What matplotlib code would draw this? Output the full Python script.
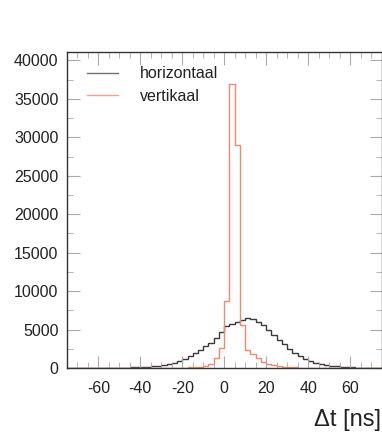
import numpy as np
import matplotlib
matplotlib.use("Agg")
import matplotlib.pyplot as plt
from matplotlib.ticker import MultipleLocator

plt.rcParams['font.family'] = ['Liberation Sans', 'DejaVu Sans']
plt.rcParams['axes.unicode_minus'] = False

# bin edges: -75 .. 75 ns in 2.5 ns steps
bin_lo = -75.0
bin_hi = 75.0
bin_w = 2.5

horizontaal = [0, 0, 2, 3, 5, 8, 10, 15, 20, 30,
               40, 55, 75, 100, 130, 170, 220, 290, 370, 470,
               620, 850, 1150, 1500, 1900, 2350, 2800, 3300, 3900, 4700,
               5400, 5700, 6000, 6300, 6450, 6350, 6000, 5550, 4950, 4300,
               3700, 3100, 2500, 1950, 1550, 1200, 950, 700, 520, 380,
               280, 200, 140, 100, 70, 50, 35, 25, 15, 10]

vertikaal = [0, 0, 0, 0, 0, 0, 0, 0, 0, 0,
             0, 1, 2, 3, 4, 5, 6, 8, 10, 15,
             20, 30, 45, 70, 110, 130, 250, 550, 1250, 2550,
             8700, 37000, 29000, 5600, 2400, 1800, 1250, 800, 550, 380,
             260, 180, 120, 80, 50, 35, 25, 15, 10, 6,
             4, 3, 2, 1, 1, 0, 0, 0, 0, 0]

labels = ['horizontaal', 'vertikaal']
colors = ['#3a3a3a', '#f5876c']
legend_colors = ['#6f6f6f', '#f6a28c']

edges = np.arange(bin_lo, bin_hi + bin_w / 2, bin_w)

fig = plt.figure(figsize=(3.82, 4.41), dpi=100)
ax = fig.add_axes([0.175, 0.1655, 0.824, 0.7165])

ax.stairs(horizontaal, edges, color=colors[0], lw=1.0, label=labels[0])
ax.stairs(vertikaal, edges, color=colors[1], lw=1.0, label=labels[1])

ax.set_xlim(-75, 75)
ax.set_ylim(0, 41100)

ax.xaxis.set_major_locator(MultipleLocator(20))
ax.xaxis.set_minor_locator(MultipleLocator(5))
ax.yaxis.set_major_locator(MultipleLocator(5000))
ax.yaxis.set_minor_locator(MultipleLocator(2500))
ax.set_xticks([-60, -40, -20, 0, 20, 40, 60])

ax.tick_params(which='both', direction='in', top=True, right=True,
               color='#aaaaaa', labelcolor='#222222', labelsize=11.5)
ax.tick_params(which='major', length=9, width=0.8, pad=9)
ax.tick_params(which='minor', length=4, width=0.6)
ax.tick_params(axis='y', which='major', pad=6)

for s in ax.spines.values():
    s.set_color('#333333')
    s.set_linewidth(1.0)

leg = ax.legend(loc='upper left', frameon=False, fontsize=11.5,
                handlelength=1.9, handletextpad=1.4, labelspacing=0.45,
                borderaxespad=0.3, bbox_to_anchor=(0.03, 0.99))
for t in leg.get_texts():
    t.set_color('#222222')
for h, c in zip(leg.get_lines(), legend_colors):
    h.set_linewidth(1.0)
    h.set_color(c)

fig.text(0.998, 0.035, 'Δt [ns]', ha='right', va='baseline',
         fontsize=17, color='#222222')

fig.savefig('out.png', dpi=100)
